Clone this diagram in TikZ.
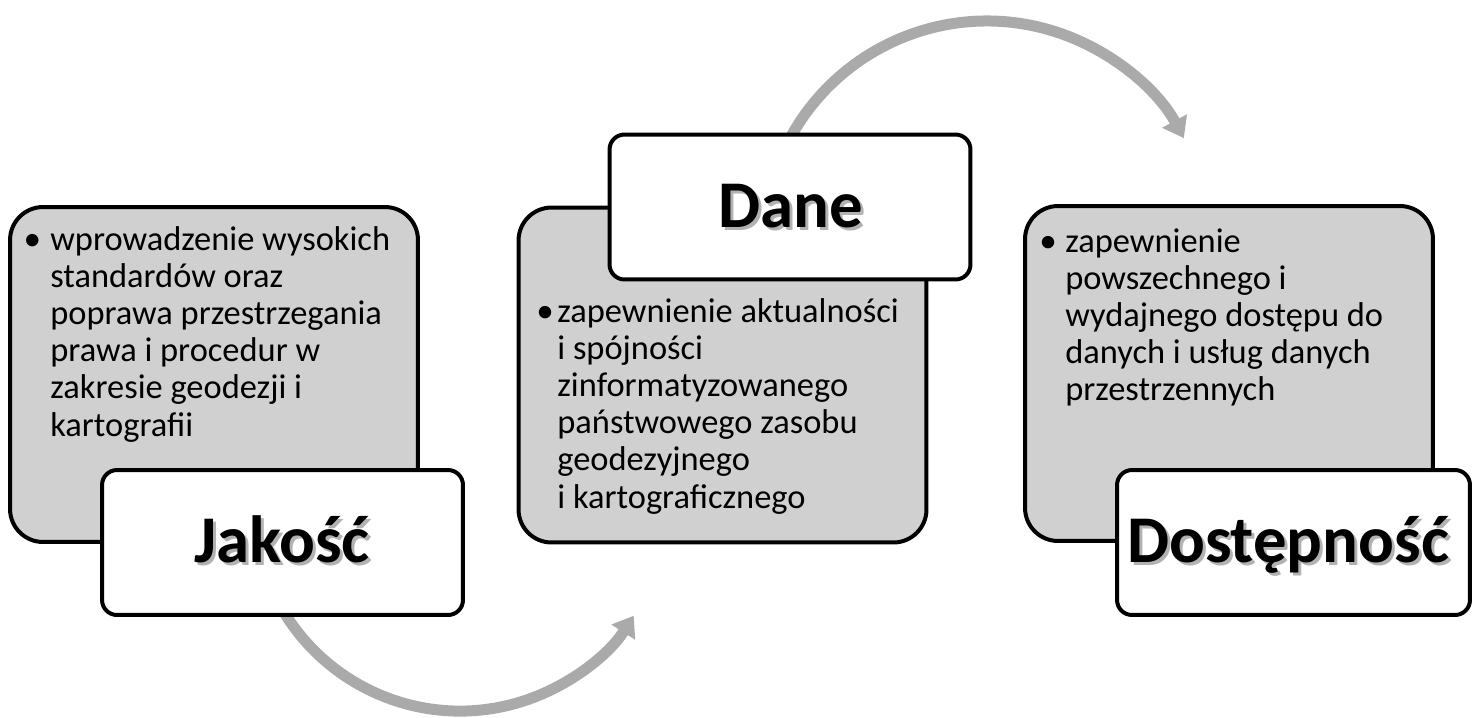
\documentclass[tikz,border=0pt]{standalone}
\usepackage{fontspec}
\setmainfont{Carlito}
\usetikzlibrary{arrows.meta}
\definecolor{boxgray}{RGB}{208,208,208}
\definecolor{arrowgray}{RGB}{170,170,170}
\newcommand{\shadowed}[1]{\makebox[0pt][l]{\hspace{0.06cm}\raisebox{-0.06cm}{\textcolor{black!30}{#1}}}#1}

\begin{document}
\begin{tikzpicture}[x=0.02cm, y=-0.02cm,
    panel/.style={draw=black, line width=0.08cm, fill=boxgray, rounded corners=0.66cm,
        minimum width=8.16cm, minimum height=6.7cm, inner sep=0pt},
    titlebox/.style={draw=black, line width=0.08cm, fill=white, rounded corners=0.3cm,
        minimum width=7.22cm, minimum height=2.9cm, inner sep=0pt},
    title/.style={font=\fontsize{38}{45}\selectfont\bfseries, inner sep=0pt, anchor=base},
    dot/.style={font=\fontsize{20}{21.2}\selectfont, inner sep=0pt, anchor=base},
    item/.style={font=\fontsize{19.6}{21.2}\selectfont, inner sep=0pt, anchor=base west},
    flow/.style={draw=arrowgray, line width=0.22cm, -{Triangle[length=0.39cm, width=0.54cm]}}]
    \useasboundingbox (0,0) rectangle (1473,717);

    % arrows (behind the boxes)
    \coordinate (loopA) at (266.4,575.5);
    \coordinate (loopB) at (776.5,168.4);
    \draw[flow] (loopA) arc[start angle=160, end angle=32.5, radius=206];
    \draw[flow] (loopB) arc[start angle=200, end angle=331.5, radius=224];

    % gray panels
    \node[panel] (jakoscPanel) at (214,374.5) {};
    \node[panel] (danePanel) at (722.5,375) {};
    \node[panel] (dostepPanel) at (1229,373.5) {};

    % white title boxes
    \node[titlebox] (jakosc) at (282.5,542.5) {};
    \node[titlebox] (dane) at (790,207) {};
    \node[titlebox, minimum width=7.06cm] (dostep) at (1293.5,542.5) {};

    \node[title] (jakoscTitle) at (282,562) {\shadowed{Jakość}};
    \node[title] (daneTitle) at (791,227) {\shadowed{Dane}};
    \node[title] (dostepTitle) at (1288,562) {\shadowed{Dostępność}};

    % bullet texts
    \node[dot] (jakoscDot) at (32.5,250) {•};
    \node[item] (jakoscText) at (50,250) {\parbox[t]{8cm}{\raggedright
        wprowadzenie wysokich\\
        standardów oraz\\
        poprawa przestrzegania\\
        prawa i procedur w\\
        zakresie geodezji i\\
        kartografii}};
    \node[dot] (daneDot) at (545,322) {•};
    \node[item] (daneText) at (557,322) {\parbox[t]{8cm}{\raggedright
        zapewnienie aktualności\\
        i spójności\\
        zinformatyzowanego\\
        państwowego zasobu\\
        geodezyjnego\\
        i kartograficznego}};
    \node[dot] (dostepDot) at (1048,252) {•};
    \node[item] (dostepText) at (1065,252) {\parbox[t]{8cm}{\raggedright
        zapewnienie\\
        powszechnego i\\
        wydajnego dostępu do\\
        danych i usług danych\\
        przestrzennych}};
\end{tikzpicture}
\end{document}
